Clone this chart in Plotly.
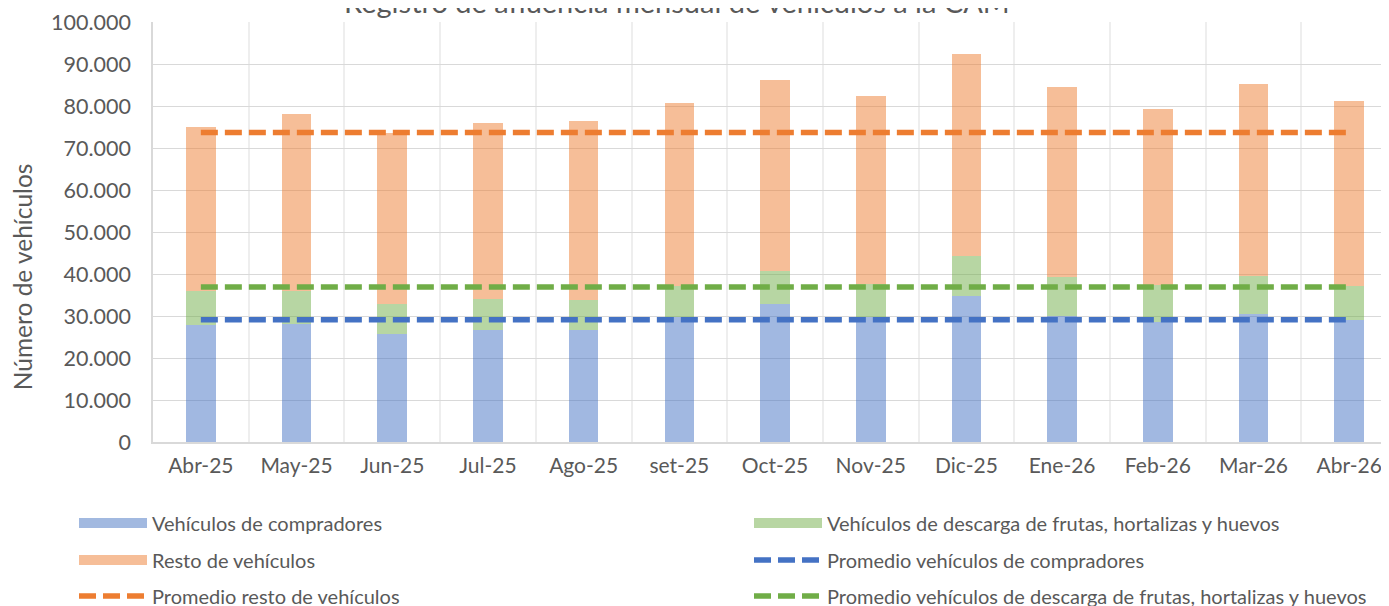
import plotly.graph_objects as go

meses = ["Abr-25", "May-25", "Jun-25", "Jul-25", "Ago-25", "set-25", "Oct-25",
         "Nov-25", "Dic-25", "Ene-26", "Feb-26", "Mar-26", "Abr-26"]
compradores = [27800, 28200, 25600, 26700, 26700, 29700, 32800, 29800, 34700, 30100, 28500, 30500, 29000]
descarga = [8100, 7800, 7300, 7400, 7100, 7500, 7900, 7800, 9500, 9300, 8800, 9100, 8200]
resto = [39100, 42100, 40600, 41800, 42600, 43400, 45400, 44700, 48200, 45100, 42000, 45600, 44000]
prom_compradores = 29100
prom_descarga = 36900
prom_resto = 73700

FONT = "Lato"
TXT = "#595959"
n = len(meses)
xpos = list(range(n))

C_BLUE, C_GREEN, C_ORANGE = "#4472C4", "#70AD47", "#ED7D31"
F_BLUE, F_GREEN, F_ORANGE = "rgba(68,114,196,0.5)", "rgba(112,173,71,0.5)", "rgba(237,125,49,0.5)"
DASH = "17px,7px"
LW = 5.5

fig = go.Figure()
# stacked bars (legend entries drawn as wide swatches via legend-only traces)
bars = [
    ("Vehículos de compradores", compradores, F_BLUE, "#A2B9E0", "legend"),
    ("Vehículos de descarga de frutas, hortalizas y huevos", descarga, F_GREEN, "#B8D6A3", "legend2"),
    ("Resto de vehículos", resto, F_ORANGE, "#F6BE98", "legend3"),
]
for name, vals, fill, solid, leg in bars:
    fig.add_trace(go.Bar(x=xpos, y=vals, name=name, legendgroup=name, showlegend=False,
                         marker=dict(color=fill, line=dict(width=0)), width=0.31))
for name, vals, fill, solid, leg in bars:
    fig.add_trace(go.Scatter(x=[None], y=[None], mode="lines", name=name, legendgroup=name,
                             line=dict(color=solid, width=12), legend=leg, hoverinfo="skip"))

lines = [
    ("Promedio vehículos de compradores", prom_compradores, C_BLUE, "legend4"),
    ("Promedio resto de vehículos", prom_resto, C_ORANGE, "legend5"),
    ("Promedio vehículos de descarga de frutas, hortalizas y huevos", prom_descarga, C_GREEN, "legend6"),
]
for name, val, col, leg in lines:
    fig.add_trace(go.Scatter(x=xpos, y=[val] * n, mode="lines", name=name,
                             line=dict(color=col, width=LW, dash=DASH), legend=leg))

# the page body adds an 8 px offset; layout values below are in figure pixels
W, H = 1389, 606
L, T = 145, 14
plot_bottom = 433.7
B = H - plot_bottom
cat_w = 95.7
plot_w = W - L
plot_h = plot_bottom - T
xr = [-0.5, -0.5 + plot_w / cat_w]

IW = 68


def leg(xpx, ypx):
    return dict(orientation="v", xref="container", yref="container",
                x=xpx / W, y=1 - ypx / H, xanchor="left", yanchor="middle",
                font=dict(family=FONT, size=20, color=TXT), itemwidth=IW,
                bgcolor="rgba(0,0,0,0)", borderwidth=0)


col1, col2 = 66, 741
row1, row2, row3 = 515, 552, 588

fig.update_layout(
    width=W, height=H,
    margin=dict(l=L, r=0, t=T, b=B, pad=0, autoexpand=False),
    barmode="stack", bargap=0,
    plot_bgcolor="white", paper_bgcolor="white",
    separators=",.",
    font=dict(family=FONT, color=TXT),
    showlegend=True,
    xaxis=dict(range=xr, tickmode="array", tickvals=xpos, ticktext=meses,
               showgrid=False, zeroline=False, automargin=False,
               showline=True, linecolor="#D9D9D9", linewidth=1.5,
               ticks="outside", ticklen=4, tickcolor="rgba(0,0,0,0)",
               tickfont=dict(family=FONT, size=21, color=TXT),
               minor=dict(tickvals=[i + 0.5 for i in range(n)], showgrid=True,
                          gridcolor="#EEEEEE", gridwidth=1.5, ticks="")),
    yaxis=dict(range=[0, 100000], dtick=10000, tickformat=",d", automargin=False,
               showgrid=True, gridcolor="#D9D9D9", gridwidth=1.3,
               zeroline=False, showline=True, linecolor="#D9D9D9", linewidth=1.5,
               ticks="outside", ticklen=16, tickcolor="rgba(0,0,0,0)",
               tickfont=dict(family=FONT, size=21.5, color=TXT)),
    legend=leg(col1, row1),
    legend2=leg(col2, row1),
    legend3=leg(col1, row2),
    legend4=leg(col2, row2),
    legend5=leg(col1, row3),
    legend6=leg(col2, row3),
    annotations=[
        dict(text="Registro de afluencia mensual de vehículos a la CAM", showarrow=False,
             xref="paper", yref="paper", x=(669 - L) / plot_w, xanchor="center",
             y=1, yanchor="middle", yshift=T + 7,
             font=dict(family=FONT, size=29, color=TXT)),
        dict(text="Número de vehículos", textangle=-90, showarrow=False,
             xref="paper", yref="paper", x=0, xshift=-131, xanchor="center",
             y=(plot_bottom - 269) / plot_h, yanchor="middle",
             font=dict(family=FONT, size=24.5, color=TXT)),
    ],
)

fig.write_html("out.html")
